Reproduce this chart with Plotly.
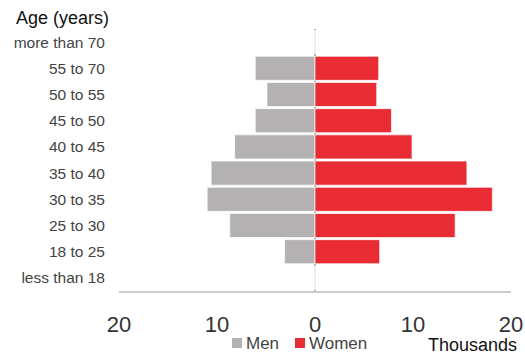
import plotly.graph_objects as go

categories = ["more than 70", "55 to 70", "50 to 55", "45 to 50", "40 to 45",
              "35 to 40", "30 to 35", "25 to 30", "18 to 25", "less than 18"]
men = [0, 6.1, 4.9, 6.1, 8.2, 10.6, 11.0, 8.7, 3.1, 0]
women = [0, 6.5, 6.3, 7.8, 9.9, 15.5, 18.1, 14.3, 6.6, 0]
tick_vals = [-20, -10, 0, 10, 20]
tick_text = ["20", "10", "0", "10", "20"]
series_names = ["Men", "Women"]

GRAY = "#b3b1b2"
RED = "#e92b33"
FONT = "Liberation Sans"

W, H = 525, 356
ML, MR, MT, MB = 119, 14, 29, 65
PW, PH = W - ML - MR, H - MT - MB


def px(x):
    return (x - ML) / PW


def py(y):
    return (H - MB - y) / PH


fig = go.Figure()
fig.add_trace(go.Bar(
    y=categories, x=[-v for v in men], orientation="h", name=series_names[0],
    marker=dict(color=GRAY, line=dict(color="rgba(255,255,255,0.7)", width=1)),
))
fig.add_trace(go.Bar(
    y=categories, x=women, orientation="h", name=series_names[1],
    marker=dict(color=RED, line=dict(color="rgba(255,255,255,0.7)", width=1)),
))

shapes = [
    dict(type="rect", xref="paper", yref="paper", x0=px(232), x1=px(242),
         y0=py(348), y1=py(338), fillcolor=GRAY, line=dict(width=0)),
    dict(type="rect", xref="paper", yref="paper", x0=px(295), x1=px(305),
         y0=py(348), y1=py(338), fillcolor=RED, line=dict(width=0)),
]

annotations = [
    dict(text="Age (years)", x=px(111), xref="paper", xanchor="right", y=py(18), yref="paper",
         yanchor="middle", showarrow=False, font=dict(size=18, color="#111", family=FONT)),
    dict(text="Thousands", x=px(519), xref="paper", xanchor="right", y=py(345), yref="paper",
         yanchor="middle", showarrow=False, font=dict(size=18, color="#111", family=FONT)),
    dict(text=series_names[0], x=px(244), xref="paper", xanchor="left", y=py(343), yref="paper",
         yanchor="middle", showarrow=False, font=dict(size=17, color="#444", family=FONT)),
    dict(text=series_names[1], x=px(307), xref="paper", xanchor="left", y=py(343), yref="paper",
         yanchor="middle", showarrow=False, font=dict(size=17, color="#444", family=FONT)),
]

fig.update_layout(
    width=W, height=H,
    margin=dict(l=ML, r=MR, t=MT, b=MB),
    barmode="relative", bargap=0.08,
    plot_bgcolor="white", paper_bgcolor="white",
    font=dict(family=FONT, color="#333"),
    showlegend=False,
    xaxis=dict(range=[-20, 20], tickvals=tick_vals, ticktext=tick_text,
               showgrid=False, zeroline=True, zerolinecolor="#aaaaaa", zerolinewidth=1.5,
               showline=True, linecolor="#cccccc", linewidth=1.5, automargin=False,
               ticks="", ticklabelstandoff=13, tickfont=dict(size=22, color="#333"),
               fixedrange=True),
    yaxis=dict(categoryorder="array", categoryarray=categories, autorange="reversed",
               showgrid=False, zeroline=False, showline=False, ticks="", automargin=False,
               ticklabelstandoff=13, tickfont=dict(size=15.5, color="#444"),
               fixedrange=True),
    shapes=shapes,
    annotations=annotations,
)

fig.write_html("out.html", config={"displayModeBar": False},
               post_script="document.body.style.margin='0px';document.body.style.overflow='hidden';")
